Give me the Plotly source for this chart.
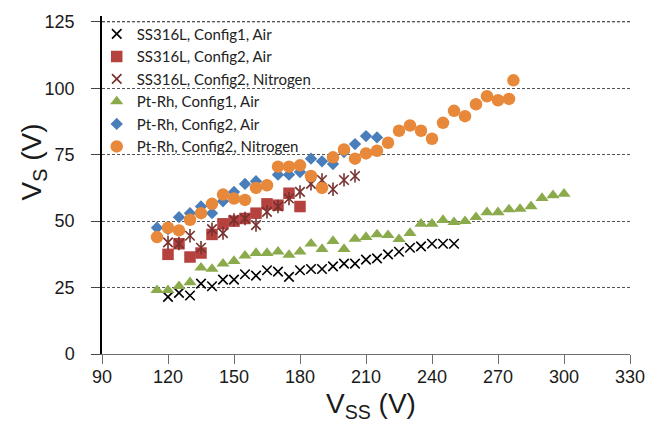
import plotly.graph_objects as go

# ---- data ----
ss_c1_air_x = [120, 125, 130, 135, 140, 145, 150, 155, 160, 165, 170, 175, 180, 185,
               190, 195, 200, 205, 210, 215, 220, 225, 230, 235, 240, 245, 250]
ss_c1_air_y = [21.5, 23, 22, 26.5, 25.5, 28, 28, 30, 29.5, 31.5, 31, 29, 31.5, 32,
               32, 33, 34, 34, 35.5, 36, 37.5, 38.5, 40, 40.5, 41.5, 41.5, 41.5]

ss_c2_air_x = [120, 125, 130, 135, 140, 145, 150, 155, 160, 165, 170, 175, 180]
ss_c2_air_y = [37.5, 41.5, 36.5, 38, 45, 49, 50, 51, 53, 56.5, 56, 60.5, 55.5]

ss_c2_n2_x = [120, 125, 130, 135, 140, 145, 150, 155, 160, 165, 170, 175, 180,
              185, 190, 195, 200, 205]
ss_c2_n2_y = [42, 41.5, 44.5, 40, 47, 45.5, 50.5, 51, 48.5, 53.5, 55.5, 58.5, 61,
              64, 65.5, 62, 65.5, 67]

pt_c1_air_x = [115, 120, 125, 130, 135, 140, 145, 150, 155, 160, 165, 170, 175,
               180, 185, 190, 195, 200, 205, 210, 215, 220, 225, 230, 235, 240,
               245, 250, 255, 260, 265, 270, 275, 280, 285, 290, 295, 300]
pt_c1_air_y = [24, 24, 25.5, 27, 32.5, 32, 34, 35, 37, 38, 38, 38.5, 37.3,
               38.5, 41.5, 39.5, 42.5, 39.5, 43.3, 44, 45, 44.7, 43.2, 45.5, 49, 49,
               50.4, 49.6, 50, 51.5, 53.3, 53.3, 54.4, 54.6, 55.6, 58.7, 59.7, 60.3]

pt_c2_air_x = [115, 120, 125, 130, 135, 140, 145, 150, 155, 160, 165, 170, 175,
               180, 185, 190, 195, 200, 205, 210, 215]
pt_c2_air_y = [47.5, 47, 51.5, 53, 55.5, 53, 57.5, 61, 64, 65, 63.5, 67.5, 67.5,
               68.5, 73.5, 72.5, 71.5, 76, 79, 82, 81.5]

pt_c2_n2_x = [115, 120, 125, 130, 135, 140, 145, 150, 155, 160, 165, 170, 175,
              180, 185, 190, 195, 200, 205, 210, 215, 220, 225, 230, 235, 240,
              245, 250, 255, 260, 265, 270, 275, 277]
pt_c2_n2_y = [44, 47.5, 46.5, 50.5, 53, 56.5, 60, 58.5, 58, 62.5, 63.5, 70.5, 70.5,
              71, 67, 62.5, 74, 77, 73.5, 75.5, 76.5, 79.5, 84, 86, 84, 81,
              87, 91.5, 89.5, 94, 97, 95.5, 96, 103]

names = ["SS316L, Config1, Air", "SS316L, Config2, Air", "SS316L, Config2, Nitrogen",
         "Pt-Rh, Config1, Air", "Pt-Rh, Config2, Air", "Pt-Rh, Config2, Nitrogen"]

x_ticks = [90, 120, 150, 180, 210, 240, 270, 300, 330]
y_ticks = [0, 25, 50, 75, 100, 125]

# ---- figure ----
fig = go.Figure()

fig.add_trace(go.Scatter(x=ss_c1_air_x, y=ss_c1_air_y, mode="markers", name=names[0],
                         legendgroup="g0",
                         marker=dict(symbol="x-thin-open", size=9.5, color="#000000",
                                     line=dict(color="#000000", width=1.6))))
fig.add_trace(go.Scatter(x=ss_c2_air_x, y=ss_c2_air_y, mode="markers", name=names[1],
                         legendgroup="g1",
                         marker=dict(symbol="square", size=11.5, color="#B5423F")))
fig.add_trace(go.Scatter(x=ss_c2_n2_x, y=ss_c2_n2_y, mode="markers", name=names[2],
                         legendgroup="g2",
                         marker=dict(symbol="x-thin-open", size=9.5, color="#77302D",
                                     line=dict(color="#77302D", width=1.6))))
fig.add_trace(go.Scatter(x=ss_c2_n2_x, y=ss_c2_n2_y, mode="markers", name=names[2],
                         legendgroup="g2", showlegend=False,
                         marker=dict(symbol="line-ns-open", size=9.5, color="#77302D",
                                     line=dict(color="#77302D", width=1.6))))
fig.add_trace(go.Scatter(x=pt_c1_air_x, y=pt_c1_air_y, mode="markers", name=names[3],
                         legendgroup="g3",
                         marker=dict(symbol="triangle-up", size=11.5, color="#8BAA4C")))
fig.add_trace(go.Scatter(x=pt_c2_air_x, y=pt_c2_air_y, mode="markers", name=names[4],
                         legendgroup="g4",
                         marker=dict(symbol="diamond", size=9.5, color="#4A7EBB")))
fig.add_trace(go.Scatter(x=pt_c2_n2_x, y=pt_c2_n2_y, mode="markers", name=names[5],
                         legendgroup="g5",
                         marker=dict(symbol="circle", size=12.5, color="#E8883A")))

tick_font = dict(family="Liberation Sans, Arial, sans-serif", size=18, color="#1a1a1a")

T, B, L, R = 12, 68, 102, 26

fig.update_layout(
    width=657, height=422,
    margin=dict(l=L, r=R, t=T, b=B),
    paper_bgcolor="white", plot_bgcolor="white",
    showlegend=True,
    legend=dict(x=-0.01, y=0.995, xanchor="left", yanchor="top",
                bgcolor="rgba(0,0,0,0)", font=dict(family="Lato, Carlito, sans-serif",
                                                    size=15, color="#222222"),
                tracegroupgap=0, itemwidth=30),
    xaxis=dict(range=[90, 330], tickvals=x_ticks, ticktext=[str(v) for v in x_ticks],
               showgrid=False, zeroline=False, showline=True, linecolor="#6e6e6e",
               linewidth=1.2, ticks="outside", ticklen=9, tickcolor="#6e6e6e",
               tickwidth=1.2, tickfont=tick_font, ticklabelstandoff=-3),
    yaxis=dict(range=[0, 127.2], tickvals=y_ticks, ticktext=[str(v) for v in y_ticks],
               showgrid=True, gridcolor="#555555", gridwidth=1, griddash="3px,2px",
               zeroline=False, showline=True, linecolor="#000000", linewidth=1.5,
               ticks="outside", ticklen=9, tickcolor="#444444", tickwidth=1,
               tickfont=tick_font, ticklabelstandoff=13),
    shapes=[dict(type="line", xref="x", yref="y", x0=x_ticks[0], x1=x_ticks[-1],
                 y0=y_ticks[-1], y1=y_ticks[-1], layer="above",
                 line=dict(color="#555555", width=1, dash="3px,2px"))],
    annotations=[
        dict(text="V<sub>S</sub> (V)", x=33, y=160, xref="paper", yref="paper",
             xanchor="center", yanchor="middle",
             showarrow=False, textangle=-90,
             font=dict(family="Liberation Sans, Arial, sans-serif", size=28, color="#1a1a1a")),
        dict(text="V<sub>SS</sub> (V)", x=372, y=406, xref="paper", yref="paper",
             xanchor="center", yanchor="middle",
             showarrow=False,
             font=dict(family="Liberation Sans, Arial, sans-serif", size=28, color="#1a1a1a")),
    ],
)

# convert annotation pixel positions to paper coords
pw, ph = 657 - L - R, 422 - T - B
for a in fig.layout.annotations:
    a.x = (a.x - L) / pw
    a.y = (422 - B - a.y) / ph

fig.write_html("out.html")
